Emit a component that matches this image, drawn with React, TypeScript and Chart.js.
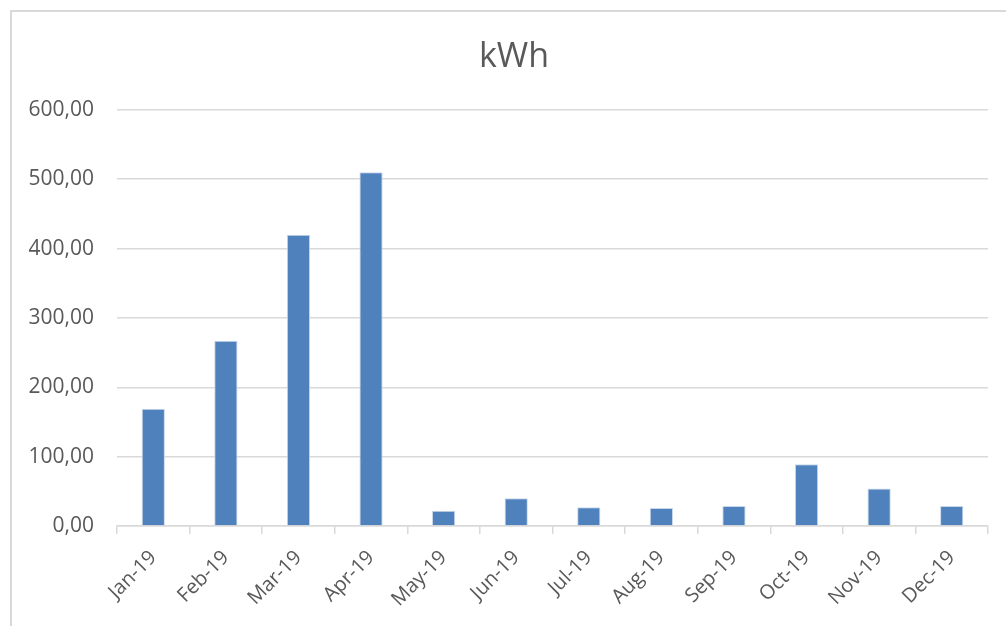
import React, { useEffect, useRef } from "react";
import { Chart, registerables } from "chart.js";

Chart.register(...registerables);

const months = ["Jan-19", "Feb-19", "Mar-19", "Apr-19", "May-19", "Jun-19", "Jul-19", "Aug-19", "Sep-19", "Oct-19", "Nov-19", "Dec-19"];
const kwhValues = [169, 267, 420, 510, 22, 40, 27, 26, 29, 89, 54, 29];
const chartTitle = "kWh";
const yMin = 0;
const yMax = 600;
const yStep = 100;

const FONT = "'Open Sans', 'DejaVu Sans', sans-serif";
const TEXT = "#595959";
const LINE = "#d9d9d9";
const TITLE_SHIFT = 20;

const titleShift = {
  id: "titleShift",
  afterLayout(chart: any) {
    const t = chart.titleBlock;
    if (t) {
      t.left += TITLE_SHIFT;
      t.right += TITLE_SHIFT;
    }
  },
};

export default function App() {
  const ref = useRef<HTMLCanvasElement | null>(null);

  useEffect(() => {
    document.body.style.margin = "0";
    const canvas = ref.current;
    if (!canvas) return;
    const chart = new Chart(canvas, {
      type: "bar",
      data: {
        labels: months,
        datasets: [
          {
            label: chartTitle,
            data: kwhValues,
            backgroundColor: "#4f81bd",
            borderColor: "#c9d7ea",
            borderWidth: 1,
            barPercentage: 0.32,
            categoryPercentage: 1,
          },
        ],
      },
      plugins: [titleShift],
      options: {
        animation: false,
        responsive: false,
        devicePixelRatio: 1,
        layout: { padding: { left: 0, right: 18, top: 0, bottom: 0 } },
        plugins: {
          legend: { display: false },
          tooltip: { enabled: false },
          title: {
            display: true,
            text: chartTitle,
            color: TEXT,
            font: { family: FONT, size: 34, weight: "normal" },
            padding: { top: 37, bottom: 32 },
          },
        },
        scales: {
          x: {
            offset: true,
            grid: {
              offset: true,
              drawOnChartArea: false,
              drawTicks: true,
              tickLength: 8,
              color: LINE,
              lineWidth: 1.5,
            },
            border: { display: true, color: LINE, width: 1.5 },
            ticks: {
              color: TEXT,
              font: { family: FONT, size: 20 },
              minRotation: 45,
              maxRotation: 45,
              padding: 12,
              autoSkip: false,
            },
            afterFit: (s: any) => {
              s.height = 100;
            },
          },
          y: {
            min: yMin,
            max: yMax,
            grid: { color: LINE, lineWidth: 1.5, drawTicks: false },
            border: { display: false },
            ticks: {
              stepSize: yStep,
              color: TEXT,
              font: { family: FONT, size: 21 },
              padding: 23,
              callback: (v: any) => Number(v).toFixed(2).replace(".", ","),
            },
            afterFit: (s: any) => {
              s.width = 117;
            },
          },
        },
      },
    });
    return () => chart.destroy();
  }, []);

  return (
    <div style={{ position: "relative", width: 1006, height: 626, background: "#fff", overflow: "hidden" }}>
      <div
        style={{
          position: "absolute",
          left: 10,
          top: 10,
          width: 1010,
          height: 640,
          borderLeft: "2px solid #d9d9d9",
          borderTop: "2px solid #d9d9d9",
          boxSizing: "border-box",
        }}
      />
      <canvas ref={ref} width={1006} height={626} style={{ position: "absolute", left: 0, top: 0 }} />
    </div>
  );
}
